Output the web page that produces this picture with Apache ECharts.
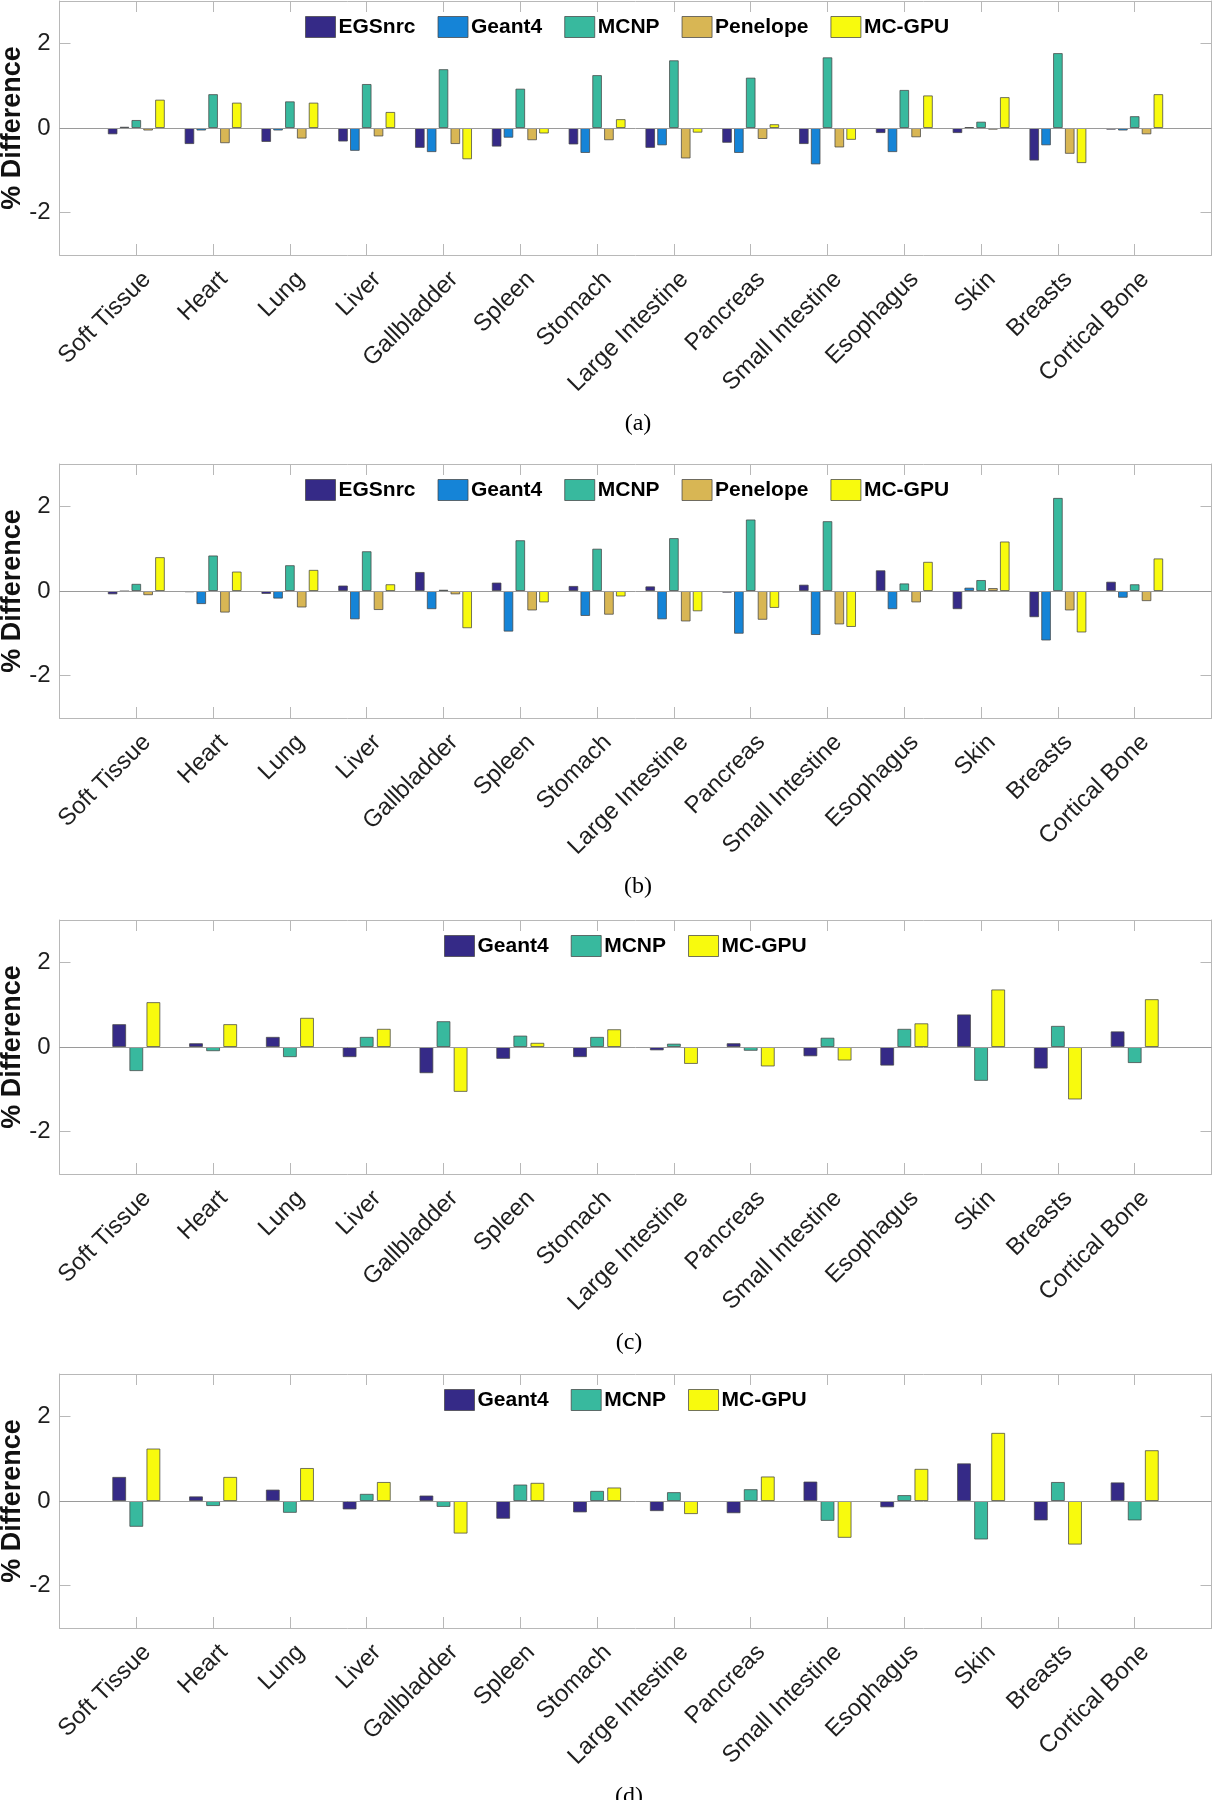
<!DOCTYPE html>
<html>
<head>
<meta charset="utf-8">
<script src="https://cdn.jsdelivr.net/npm/echarts@6/dist/echarts.min.js"></script>
<style>html,body{margin:0;padding:0;background:#fff}#chart{width:1213px;height:1800px}</style>
</head>
<body>
<div id="chart"></div>
<script>
// ---------- data ----------
const categories = ['Soft Tissue','Heart','Lung','Liver','Gallbladder','Spleen','Stomach','Large Intestine','Pancreas','Small Intestine','Esophagus','Skin','Breasts','Cortical Bone'];
const yTicks = [-2, 0, 2];
const yMin = -3, yMax = 3;
const panelLabels = ['(a)', '(b)', '(c)', '(d)'];
const yAxisTitle = '% Difference';
const namesFive = ['EGSnrc', 'Geant4', 'MCNP', 'Penelope', 'MC-GPU'];
const namesThree = ['Geant4', 'MCNP', 'MC-GPU'];

// panel (a)
const a_EGSnrc   = [-0.15,-0.38,-0.33,-0.32,-0.47,-0.44,-0.39,-0.47,-0.35,-0.38,-0.12,-0.12,-0.77,-0.04];
const a_Geant4   = [ 0.03,-0.06,-0.06,-0.54,-0.57,-0.23,-0.59,-0.41,-0.59,-0.86,-0.57, 0.02,-0.41,-0.06];
const a_MCNP     = [ 0.19, 0.80, 0.63, 1.04, 1.39, 0.93, 1.25, 1.60, 1.19, 1.67, 0.90, 0.15, 1.77, 0.28];
const a_Penelope = [-0.06,-0.36,-0.25,-0.20,-0.38,-0.29,-0.29,-0.72,-0.26,-0.46,-0.22,-0.04,-0.61,-0.15];
const a_MCGPU    = [ 0.67, 0.60, 0.60, 0.38,-0.74,-0.13, 0.21,-0.11, 0.09,-0.28, 0.77, 0.73,-0.83, 0.80];

// panel (b)
const b_EGSnrc   = [-0.08,-0.03,-0.07, 0.13, 0.45, 0.20, 0.12, 0.11,-0.04, 0.15, 0.49,-0.43,-0.62, 0.22];
const b_Geant4   = [-0.01,-0.31,-0.18,-0.67,-0.43,-0.96,-0.59,-0.67,-1.01,-1.04,-0.43, 0.08,-1.17,-0.16];
const b_MCNP     = [ 0.17, 0.84, 0.61, 0.94, 0.03, 1.20, 1.00, 1.25, 1.69, 1.65, 0.18, 0.26, 2.20, 0.16];
const b_Penelope = [-0.10,-0.51,-0.39,-0.45,-0.08,-0.46,-0.56,-0.72,-0.68,-0.79,-0.27, 0.07,-0.46,-0.24];
const b_MCGPU    = [ 0.80, 0.46, 0.50, 0.16,-0.88,-0.27,-0.13,-0.48,-0.40,-0.85, 0.69, 1.17,-0.98, 0.77];

// panel (c)
const c_Geant4 = [ 0.54, 0.09, 0.24,-0.24,-0.62,-0.28,-0.24,-0.08, 0.09,-0.22,-0.44, 0.77,-0.51, 0.37];
const c_MCNP   = [-0.57,-0.10,-0.24, 0.24, 0.61, 0.27, 0.24, 0.08,-0.09, 0.22, 0.43,-0.80, 0.50,-0.38];
const c_MCGPU  = [ 1.06, 0.54, 0.69, 0.43,-1.06, 0.10, 0.42,-0.40,-0.46,-0.32, 0.56, 1.36,-1.24, 1.13];

// panel (d)
const d_Geant4 = [ 0.57, 0.11, 0.27,-0.20, 0.13,-0.42,-0.27,-0.24,-0.29, 0.46,-0.15, 0.89,-0.46, 0.44];
const d_MCNP   = [-0.61,-0.12,-0.28, 0.17,-0.14, 0.39, 0.24, 0.21, 0.28,-0.47, 0.14,-0.91, 0.45,-0.46];
const d_MCGPU  = [ 1.24, 0.57, 0.78, 0.45,-0.77, 0.43, 0.32,-0.31, 0.58,-0.87, 0.76, 1.61,-1.03, 1.20];

// ---------- styles / layout ----------
const colorsFive  = ['#352A87', '#1584D7', '#38B99E', '#D8B654', '#F8FA0D'];
const colorsThree = ['#352A87', '#38B99E', '#F8FA0D'];
const FONT = '"Liberation Sans", Arial, Helvetica, sans-serif';
const SERIF = '"Liberation Serif", "Times New Roman", serif';
const boxColor = '#b8b8b8';
const labelColor = '#1f1f1f';
const barBorder = 'rgba(70,70,70,0.75)';

const panels = [
  { names: namesFive,  colors: colorsFive,  data: [a_EGSnrc, a_Geant4, a_MCNP, a_Penelope, a_MCGPU], top: 1,    legendLeft: 305, capX: 638, barWidth: 9.7, barGap: '22%' },
  { names: namesFive,  colors: colorsFive,  data: [b_EGSnrc, b_Geant4, b_MCNP, b_Penelope, b_MCGPU], top: 464,  legendLeft: 305, capX: 638, barWidth: 9.7, barGap: '22%' },
  { names: namesThree, colors: colorsThree, data: [c_Geant4, c_MCNP, c_MCGPU],                       top: 920,  legendLeft: 444, capX: 629, barWidth: 13.9, barGap: '23%' },
  { names: namesThree, colors: colorsThree, data: [d_Geant4, d_MCNP, d_MCGPU],                       top: 1374, legendLeft: 444, capX: 629, barWidth: 13.9, barGap: '23%' }
];
const gridLeft = 59.5, gridWidth = 1152, gridHeight = 254;
const xCats = [''].concat(categories, ['']);   // half-unit margins, MATLAB-like xlim [0, 15]

const grid = [], xAxis = [], yAxis = [], series = [], legend = [], graphic = [];

panels.forEach((p, pi) => {
  grid.push({ left: gridLeft, top: p.top, width: gridWidth, height: gridHeight, show: false, containLabel: false, outerBoundsMode: 'none' });

  const tickStyle = { show: true, inside: true, length: 11, lineStyle: { color: boxColor, width: 1 } };
  const lineStyle = { show: true, onZero: false, lineStyle: { color: boxColor, width: 1 } };

  xAxis.push({
    type: 'category', gridIndex: pi, data: xCats, boundaryGap: false, position: 'bottom',
    axisLine: lineStyle, axisTick: Object.assign({ interval: 0 }, tickStyle),
    axisLabel: { interval: 0, rotate: 45, margin: 10, verticalAlign: 'top', padding: [3, 0, 0, 0], fontSize: 24, color: labelColor, fontFamily: FONT },
    splitLine: { show: false }
  });
  xAxis.push({
    type: 'category', gridIndex: pi, data: xCats, boundaryGap: false, position: 'top',
    axisLine: lineStyle, axisTick: Object.assign({ interval: 0 }, tickStyle),
    axisLabel: { show: false }, splitLine: { show: false }
  });
  yAxis.push({
    type: 'value', gridIndex: pi, min: yMin, max: yMax, position: 'left',
    axisLine: lineStyle,
    axisTick: Object.assign({ customValues: yTicks }, tickStyle),
    axisLabel: { customValues: yTicks, margin: 9, fontSize: 24, color: labelColor, fontFamily: FONT },
    splitLine: { show: false },
    name: yAxisTitle, nameLocation: 'middle', nameGap: 33, nameRotate: 90, nameMoveOverlap: false,
    nameTextStyle: { fontSize: 27, fontWeight: 'bold', color: '#111', fontFamily: FONT }
  });
  yAxis.push({
    type: 'value', gridIndex: pi, min: yMin, max: yMax, position: 'right',
    axisLine: lineStyle,
    axisTick: Object.assign({ customValues: yTicks }, tickStyle),
    axisLabel: { show: false }, splitLine: { show: false }
  });

  p.names.forEach((name, si) => {
    const s = {
      type: 'bar', name: name,
      xAxisIndex: pi * 2, yAxisIndex: pi * 2,
      data: [null].concat(p.data[si], [null]),
      barWidth: p.barWidth, barGap: p.barGap,
      itemStyle: { color: p.colors[si], borderColor: barBorder, borderWidth: 1 },
      emphasis: { disabled: true },
      silent: true
    };
    if (si === 0) {
      s.markLine = {
        silent: true, symbol: 'none', animation: false,
        label: { show: false },
        lineStyle: { color: '#9a9a9a', type: 'solid', width: 1 },
        data: [{ yAxis: 0 }]
      };
    }
    series.push(s);
  });

  legend.push({
    top: p.top + 15, left: p.legendLeft, orient: 'horizontal', padding: 0,
    itemWidth: 30, itemHeight: 21, itemGap: 22, icon: 'rect',
    selectedMode: false,
    textStyle: { fontSize: 21, fontWeight: 'bold', color: '#000', fontFamily: FONT, padding: [0, 0, 0, -2] },
    data: p.names.map((n, si) => ({
      name: n,
      itemStyle: { color: p.colors[si], borderColor: barBorder, borderWidth: 1 }
    }))
  });

  graphic.push({
    type: 'text', x: p.capX, y: p.top + 423,
    style: { text: panelLabels[pi], font: '24px ' + SERIF, fill: '#000', textAlign: 'center', textVerticalAlign: 'middle' }
  });
});

const chart = echarts.init(document.getElementById('chart'), null, { renderer: 'canvas' });
chart.setOption({
  animation: false,
  backgroundColor: '#ffffff',
  grid, xAxis, yAxis, series, legend, graphic
});
</script>
</body>
</html>
